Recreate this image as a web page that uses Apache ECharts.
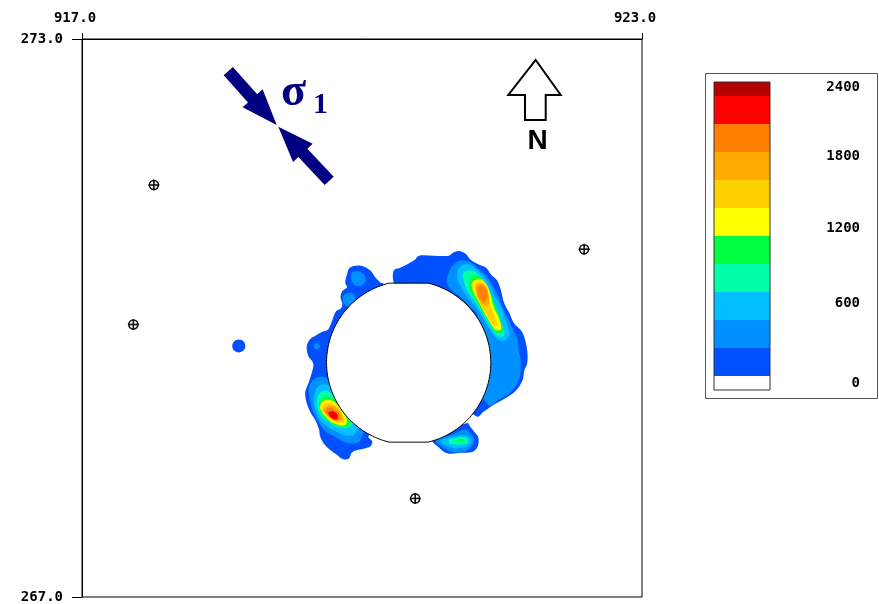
<!DOCTYPE html>
<html><head><meta charset="utf-8">
<script src="https://cdn.jsdelivr.net/npm/echarts@6/dist/echarts.min.js"></script>
<style>html,body{margin:0;padding:0;background:#fff;}#c{width:879px;height:604px;}</style>
</head><body><div id="c"></div>
<script>
// ---- axis ticks ----
const xTicks = [917, 923];
const yTicks = [267, 273];
// ---- colour classes (lower bound of each band) ----
const bandLevels = [0, 200, 400, 600, 800, 1000, 1200, 1400, 1600, 1800, 2000, 2200];
const bandColors = ['#ffffff', '#0050ff', '#0090ff', '#00c0ff', '#00ffa8', '#00ff40', '#ffff00', '#ffd000', '#ffaa00', '#ff8000', '#ff0000', '#b40000'];
const legendLabels = ['2400', '1800', '1200', '600', '0'];
// ---- tunnel (x, y, radius, half-height of flat cut) ----
const tunnelCenter = [920.5, 269.52];
const tunnelRadius = 0.88;
const tunnelFlat = 0.855;
// ---- survey markers ----
const markerX = [917.77, 917.55, 920.57, 922.38];
const markerY = [271.43, 269.93, 268.06, 270.74];
// ---- contour rings: [band index, [[x,y],...]] ----
const rightBlob = [
 [1, [[920.34,270.38],[920.34,270.51],[920.41,270.54],[920.56,270.62],[920.61,270.67],[920.77,270.67],[920.93,270.67],[920.97,270.70],[921.04,270.72],[921.11,270.69],[921.16,270.63],[921.24,270.58],[921.33,270.54],[921.38,270.47],[921.45,270.40],[921.49,270.29],[921.52,270.17],[921.58,270.05],[921.63,269.94],[921.70,269.87],[921.74,269.79],[921.77,269.65],[921.77,269.51],[921.74,269.44],[921.72,269.33],[921.65,269.22],[921.54,269.14],[921.40,269.06],[921.30,268.99],[921.23,268.94],[921.06,269.12],[920.74,269.87],[920.41,270.29]]],
 [2, [[920.93,270.49],[920.97,270.56],[921.06,270.62],[921.16,270.60],[921.27,270.51],[921.34,270.44],[921.41,270.33],[921.47,270.21],[921.52,270.08],[921.58,269.96],[921.63,269.85],[921.67,269.76],[921.68,269.65],[921.70,269.55],[921.70,269.44],[921.68,269.33],[921.59,269.20],[921.46,269.12],[921.36,269.06],[921.06,269.55],[921.24,270.01],[921.15,270.13],[921.06,270.22],[920.97,270.29],[920.91,270.38]]],
 [3, [[921.04,270.54],[921.13,270.58],[921.22,270.53],[921.31,270.44],[921.38,270.33],[921.43,270.22],[921.49,270.12],[921.54,269.97],[921.58,269.83],[921.54,269.76],[921.47,269.76],[921.40,269.83],[921.31,269.97],[921.22,270.12],[921.13,270.22],[921.06,270.33],[921.02,270.44]]],
 [4, [[921.09,270.49],[921.18,270.51],[921.27,270.44],[921.34,270.33],[921.40,270.21],[921.45,270.08],[921.50,269.94],[921.52,269.81],[921.45,269.81],[921.38,269.90],[921.29,270.05],[921.20,270.19],[921.13,270.29],[921.09,270.40]]],
 [5, [[921.16,270.44],[921.24,270.46],[921.31,270.38],[921.38,270.26],[921.43,270.12],[921.49,269.97],[921.50,269.85],[921.43,269.85],[921.36,269.96],[921.27,270.10],[921.20,270.22],[921.15,270.35]]],
 [6, [[921.18,270.38],[921.27,270.42],[921.34,270.35],[921.38,270.24],[921.41,270.12],[921.47,269.99],[921.49,269.88],[921.43,269.87],[921.38,269.94],[921.31,270.06],[921.24,270.19],[921.19,270.29]]],
 [7, [[921.21,270.37],[921.27,270.39],[921.34,270.33],[921.36,270.22],[921.38,270.12],[921.43,269.99],[921.45,269.92],[921.41,269.92],[921.34,270.03],[921.27,270.15],[921.22,270.26]]],
 [8, [[921.22,270.35],[921.29,270.37],[921.34,270.31],[921.36,270.21],[921.35,270.13],[921.29,270.15],[921.24,270.22],[921.22,270.29]]],
 [9, [[921.24,270.33],[921.29,270.35],[921.34,270.29],[921.34,270.21],[921.31,270.17],[921.26,270.22],[921.24,270.28]]]
];
const leftBlob = [
 [1, [[920.23,270.37],[920.20,270.38],[920.14,270.44],[920.09,270.51],[920.00,270.56],[919.91,270.56],[919.86,270.53],[919.84,270.47],[919.82,270.38],[919.84,270.33],[919.79,270.29],[919.77,270.22],[919.79,270.15],[919.77,270.10],[919.73,270.08],[919.70,270.03],[919.68,269.97],[919.66,269.92],[919.63,269.87],[919.57,269.85],[919.50,269.81],[919.45,269.78],[919.41,269.71],[919.41,269.65],[919.43,269.58],[919.47,269.53],[919.48,269.49],[919.47,269.44],[919.45,269.37],[919.43,269.31],[919.41,269.26],[919.39,269.19],[919.41,269.08],[919.45,268.98],[919.50,268.90],[919.54,268.80],[919.55,268.73],[919.59,268.65],[919.66,268.58],[919.73,268.53],[919.80,268.48],[919.86,268.49],[919.89,268.55],[919.95,268.58],[920.04,268.60],[920.09,268.62],[920.11,268.67],[920.07,268.73],[920.36,269.12],[920.36,269.97]]],
 [2, [[919.89,270.49],[919.97,270.50],[920.02,270.47],[920.04,270.40],[920.00,270.35],[919.93,270.35],[919.89,270.40]]],
 [2, [[919.80,270.24],[919.86,270.27],[919.91,270.26],[919.93,270.21],[919.89,270.15],[919.84,270.13],[919.80,270.17]]],
 [2, [[919.48,269.70],[919.51,269.73],[919.55,269.70],[919.51,269.66]]],
 [2, [[919.65,269.35],[919.57,269.37],[919.50,269.35],[919.45,269.30],[919.43,269.22],[919.45,269.08],[919.48,268.98],[919.54,268.87],[919.61,268.78],[919.70,268.73],[919.80,268.67],[919.89,268.65],[919.97,268.67],[920.00,268.73],[920.02,268.77],[920.31,269.22],[920.20,269.44]]],
 [3, [[919.66,269.28],[919.55,269.28],[919.50,269.22],[919.48,269.12],[919.50,269.01],[919.55,268.90],[919.63,268.83],[919.72,268.78],[919.82,268.74],[919.91,268.74],[919.95,268.80],[920.20,269.22]]],
 [4, [[919.72,269.15],[919.64,269.21],[919.57,269.21],[919.52,269.15],[919.52,269.05],[919.55,268.96],[919.63,268.89],[919.73,268.83],[919.84,268.82],[919.89,268.85],[920.09,269.12]]],
 [5, [[919.54,269.10],[919.59,269.15],[919.66,269.15],[919.73,269.10],[919.79,269.05],[919.84,268.96],[919.88,268.89],[919.86,268.83],[919.77,268.83],[919.66,268.87],[919.59,268.94],[919.55,269.01]]],
 [6, [[919.55,269.06],[919.61,269.12],[919.68,269.11],[919.75,269.05],[919.80,268.98],[919.84,268.90],[919.82,268.85],[919.75,268.85],[919.66,268.89],[919.59,268.96],[919.56,269.01]]],
 [7, [[919.57,269.05],[919.63,269.09],[919.70,269.07],[919.77,269.01],[919.80,268.94],[919.81,268.89],[919.75,268.87],[919.68,268.90],[919.61,268.96],[919.58,268.99]]],
 [8, [[919.59,269.02],[919.64,269.06],[919.72,269.04],[919.77,268.98],[919.79,268.91],[919.73,268.89],[919.66,268.92],[919.61,268.97]]],
 [9, [[919.61,269.00],[919.65,269.04],[919.72,269.01],[919.76,268.96],[919.77,268.91],[919.72,268.90],[919.65,268.94],[919.62,268.97]]],
 [10, [[919.64,268.98],[919.68,269.00],[919.73,268.97],[919.74,268.92],[919.70,268.91],[919.65,268.95]]],
 [11, [[919.68,268.94],[919.69,268.955],[919.70,268.94],[919.69,268.925]]]
];
const bottomBlob = [
 [1, [[920.75,268.68],[920.81,268.62],[920.88,268.56],[920.95,268.54],[921.06,268.55],[921.18,268.56],[921.23,268.60],[921.25,268.67],[921.24,268.73],[921.20,268.78],[921.16,268.83],[921.13,268.87],[921.08,268.86],[920.63,269.12]]],
 [2, [[920.79,268.68],[920.84,268.71],[920.95,268.74],[921.04,268.78],[921.11,268.80],[921.16,268.76],[921.20,268.69],[921.16,268.60],[921.08,268.56],[920.97,268.56],[920.88,268.60],[920.82,268.64]]],
 [3, [[920.84,268.68],[920.91,268.71],[921.00,268.73],[921.09,268.74],[921.16,268.71],[921.16,268.64],[921.09,268.61],[920.99,268.60],[920.90,268.63]]],
 [4, [[920.93,268.69],[921.00,268.71],[921.08,268.72],[921.13,268.70],[921.13,268.65],[921.06,268.64],[920.99,268.64],[920.94,268.65]]],
 [5, [[921.02,268.69],[921.06,268.705],[921.10,268.69],[921.07,268.675],[921.03,268.675]]]
];
const dotBlob = [
 [1, [[918.61,269.70],[918.63,269.75],[918.68,269.77],[918.73,269.75],[918.75,269.70],[918.73,269.65],[918.68,269.63],[918.63,269.65]]]
];

// ---- build ----
const rings = [].concat(rightBlob, leftBlob, bottomBlob, dotBlob)
  .map((r, i) => ({band: r[0], pts: r[1], i}))
  .sort((a, b) => a.band - b.band || a.i - b.i);

const labelFont = {fontFamily: 'DejaVu Sans Mono', fontWeight: 'bold', fontSize: 14, color: '#000'};

// legend layout
const barX = 714, barW = 56, barTop = 82, barBot = 390;
const unit = (barBot - barTop) / (bandColors.length - 1);
const legendLabelY = [87, 156, 228, 303, 383];
const legendEls = [{type: 'rect', shape: {x: 705.5, y: 73.5, width: 172, height: 325}, style: {fill: '#fff', stroke: '#555', lineWidth: 1}, z: 1}];
bandColors.forEach((c, k) => {
  const lo = k === 0 ? barBot : barBot - unit / 2 - (k - 1) * unit;
  const hi = k === bandColors.length - 1 ? barTop : barBot - unit / 2 - k * unit;
  legendEls.push({type: 'rect', shape: {x: barX, y: hi, width: barW, height: lo - hi}, style: {fill: c}, z: 2});
});
legendEls.push({type: 'rect', shape: {x: barX, y: barTop, width: barW, height: barBot - barTop}, style: {fill: 'none', stroke: '#333', lineWidth: 1}, z: 3});
legendLabels.forEach((t, k) => {
  legendEls.push({type: 'text', x: 860, y: legendLabelY[k], style: {text: t, font: 'bold 14px "DejaVu Sans Mono"', fill: '#000', align: 'right', verticalAlign: 'middle'}, z: 3});
});

const navy = '#000080';
const annot = [
  {type: 'polygon', shape: {points: [[223.7,75.3],[232.9,67.1],[257.2,94.2],[262.6,89.3],[276.7,125],[242.6,107.3],[248.0,102.4]]}, style: {fill: navy}},
  {type: 'polygon', shape: {points: [[333.7,176.7],[324.7,185.1],[298.4,157.1],[293.1,162.1],[278.3,126.7],[312.7,143.7],[307.4,148.7]]}, style: {fill: navy}},
  {type: 'text', x: 281, y: 93, style: {text: 'σ', font: 'bold 46px "Liberation Serif"', fill: navy, align: 'left', verticalAlign: 'middle'}},
  {type: 'text', x: 313, y: 105, style: {text: '1', font: 'bold 30px "Liberation Serif"', fill: navy, align: 'left', verticalAlign: 'middle'}},
  {type: 'polygon', shape: {points: [[535.7,60],[560.7,95],[545.7,95],[545.7,120],[525,120],[525,95],[508.3,95]]}, style: {fill: '#fff', stroke: '#000', lineWidth: 2}},
  {type: 'text', x: 537.5, y: 141, style: {text: 'N', font: 'bold 28px "Liberation Sans"', fill: '#000', align: 'center', verticalAlign: 'middle'}}
];

const chart = echarts.init(document.getElementById('c'), null, {renderer: 'canvas'});
chart.setOption({
  animation: false,
  backgroundColor: '#fff',
  grid: {left: 82, top: 39, width: 560, height: 560, show: true, borderColor: '#000', borderWidth: 1, backgroundColor: 'transparent'},
  xAxis: {
    type: 'value', position: 'top', min: xTicks[0], max: xTicks[1],
    axisLine: {show: true, lineStyle: {color: '#000', width: 1}},
    axisTick: {show: true, inside: false, length: 6, customValues: xTicks, lineStyle: {color: '#000'}},
    axisLabel: Object.assign({customValues: xTicks, formatter: v => v.toFixed(1), margin: 14, padding: [0, 14, 0, 0]}, labelFont),
    splitLine: {show: false}
  },
  yAxis: {
    type: 'value', min: yTicks[0], max: yTicks[1],
    axisLine: {show: true, lineStyle: {color: '#000', width: 1}},
    axisTick: {show: true, inside: false, length: 10, customValues: yTicks, lineStyle: {color: '#000'}},
    axisLabel: Object.assign({customValues: yTicks, formatter: v => v.toFixed(1), margin: 19}, labelFont),
    splitLine: {show: false}
  },
  series: [
    {
      type: 'custom', name: 'contours', coordinateSystem: 'cartesian2d', clip: true, silent: true,
      encode: {x: 0, y: 1},
      data: rings.map((r, k) => [r.pts[0][0], r.pts[0][1], k]),
      renderItem: (params, api) => {
        const r = rings[api.value(2)];
        return {type: 'polygon', shape: {points: r.pts.map(p => api.coord(p)), smooth: 0.35}, style: {fill: bandColors[r.band], stroke: null}};
      }
    },
    {
      type: 'custom', name: 'tunnel', coordinateSystem: 'cartesian2d', silent: true,
      encode: {x: 0, y: 1},
      data: [tunnelCenter],
      renderItem: (params, api) => {
        const cx = api.value(0), cy = api.value(1), pts = [];
        for (let k = 0; k < 180; k++) {
          const a = k / 180 * 2 * Math.PI;
          let y = cy + tunnelRadius * Math.sin(a);
          y = Math.max(cy - tunnelFlat, Math.min(cy + tunnelFlat, y));
          pts.push(api.coord([cx + tunnelRadius * Math.cos(a), y]));
        }
        return {type: 'polygon', shape: {points: pts}, style: {fill: '#fff', stroke: '#000', lineWidth: 1}};
      }
    },
    {
      type: 'custom', name: 'markers', coordinateSystem: 'cartesian2d', silent: true,
      encode: {x: 0, y: 1},
      data: markerX.map((x, i) => [x, markerY[i]]),
      renderItem: (params, api) => {
        const c = api.coord([api.value(0), api.value(1)]);
        const st = {stroke: '#111', lineWidth: 1.6, fill: null};
        return {type: 'group', children: [
          {type: 'circle', shape: {cx: c[0], cy: c[1], r: 4.5}, style: st},
          {type: 'line', shape: {x1: c[0] - 5.5, y1: c[1], x2: c[0] + 5.5, y2: c[1]}, style: st},
          {type: 'line', shape: {x1: c[0], y1: c[1] - 5.5, x2: c[0], y2: c[1] + 5.5}, style: st}
        ]};
      }
    }
  ],
  graphic: legendEls.concat(annot)
});
</script></body></html>
